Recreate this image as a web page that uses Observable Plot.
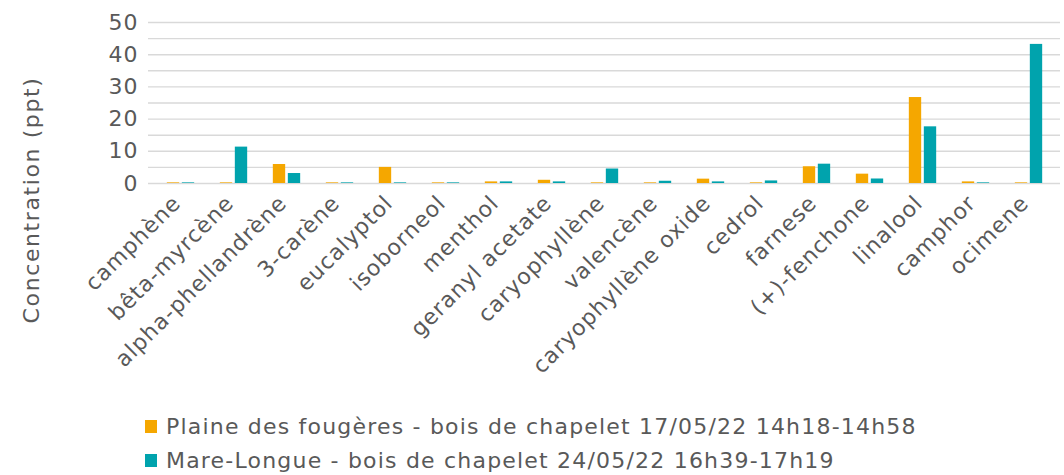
<!DOCTYPE html>
<html><head><meta charset="utf-8">
<script src="https://cdn.jsdelivr.net/npm/d3@7"></script>
<script src="https://cdn.jsdelivr.net/npm/@observablehq/plot@0.6"></script>
<style>
body{margin:0;background:#fff;font-family:"DejaVu Sans",sans-serif;}
#wrap{position:relative;width:1064px;height:475px;overflow:hidden;}
#wrap svg text{letter-spacing:1px;}
.leg{position:absolute;left:145px;font-size:22px;letter-spacing:1.2px;color:#595959;display:flex;align-items:center;white-space:nowrap;}
.sw{width:12px;height:13px;margin-right:9px;display:inline-block;}
#ytitle{position:absolute;left:31px;top:200px;transform:translate(-50%,-50%) rotate(-90deg);font-size:22px;letter-spacing:1.6px;color:#595959;white-space:nowrap;}
</style></head>
<body><div id="wrap"></div>
<script>
const categories = ["camphène","bêta-myrcène","alpha-phellandrène","3-carène","eucalyptol","isoborneol","menthol","geranyl acetate","caryophyllène","valencène","caryophyllène oxide","cedrol","farnese","(+)-fenchone","linalool","camphor","ocimene"];
const seriesNames = ["Plaine des fougères - bois de chapelet 17/05/22 14h18-14h58","Mare-Longue - bois de chapelet 24/05/22 16h39-17h19"];
const plaine = [0.2,0.2,5.9,0.2,5.0,0.2,0.5,1.0,0.2,0.2,1.35,0.2,5.2,2.9,26.7,0.5,0.2];
const mare   = [0.2,11.3,3.1,0.2,0.2,0.2,0.5,0.5,4.5,0.7,0.5,0.8,6.0,1.4,17.6,0.2,43.2];
const yTicks = [0,10,20,30,40,50];
const gridValues = [0,5,10,15,20,25,30,35,40,45,50];
const colors = ["#F5A700","#00A3AD"];
const yTitle = "Concentration (ppt)";

const rowsA = categories.map((c,i)=>({category:c, value:plaine[i]}));
const rowsB = categories.map((c,i)=>({category:c, value:mare[i]}));

const W = 1064, H = 400, mL = 148, mR = 4;
const step = (W - mL - mR) / categories.length;
const half = step / 2;

const chart = Plot.plot({
  width: W, height: H,
  marginLeft: mL, marginRight: mR, marginTop: 22, marginBottom: 217,
  style: {fontFamily: "DejaVu Sans, sans-serif", color: "#595959", background: "#fff"},
  x: {domain: categories, padding: 0, label: null},
  y: {domain: [0,50], label: null},
  marks: [
    Plot.ruleY(gridValues, {stroke: "#d9d9d9", strokeWidth: 1.4}),
    Plot.barY(rowsA, {x: "category", y: "value", fill: colors[0], insetLeft: half - 14, insetRight: half + 1}),
    Plot.barY(rowsB, {x: "category", y: "value", fill: colors[1], insetLeft: half + 1, insetRight: half - 14}),
    Plot.axisY({ticks: yTicks, tickSize: 0, tickPadding: 10, fontSize: 22, label: null}),
    Plot.axisX({tickSize: 0, tickRotate: -45, tickPadding: 16, dx: -4, fontSize: 22, label: null})
  ]
});
const wrap = document.getElementById("wrap");
wrap.appendChild(chart);
const yt = document.createElement("div");
yt.id = "ytitle"; yt.textContent = yTitle;
wrap.appendChild(yt);
seriesNames.forEach((n,i)=>{
  const d = document.createElement("div");
  d.className = "leg";
  d.style.top = (414 + i*34) + "px";
  d.innerHTML = `<span class="sw" style="background:${colors[i]}"></span><span>${n}</span>`;
  wrap.appendChild(d);
});
</script></body></html>
